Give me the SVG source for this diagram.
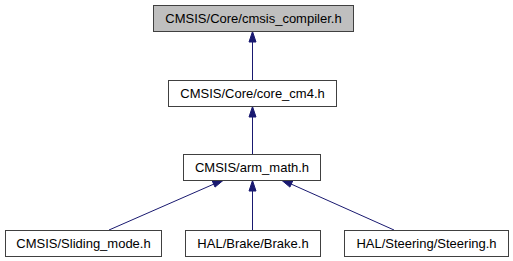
<svg xmlns="http://www.w3.org/2000/svg" width="513" height="261" viewBox="0 0 513 261">
  <defs>
    <style>
      .box { fill: #ffffff; stroke: #404040; stroke-width: 1; }
      .box.cur { fill: #bfbfbf; }
      .lbl { font-family: "Liberation Sans", Arial, sans-serif; font-size: 13px; fill: #000000; text-anchor: middle; }
      .edge { stroke: #191970; stroke-width: 1; fill: none; }
      .head { fill: #191970; stroke: #191970; stroke-width: 1; }
    </style>
  </defs>
  <rect width="513" height="261" fill="#ffffff"/>

  <g id="connectors">
    <!-- core_cm4.h -> cmsis_compiler.h -->
    <path class="edge" d="M252.5,80 L252.5,41"/>
    <polygon class="head" points="249,42 252.5,31.5 256,42"/>
    <!-- arm_math.h -> core_cm4.h -->
    <path class="edge" d="M252.5,154 L252.5,117"/>
    <polygon class="head" points="249,117 252.5,106.5 256,117"/>
    <!-- Sliding_mode.h -> arm_math.h -->
    <path class="edge" d="M109,230 L214,184"/>
    <polygon class="head" points="212.2,180.8 223,180.5 215,187.1"/>
    <!-- Brake.h -> arm_math.h -->
    <path class="edge" d="M252.5,230 L252.5,191"/>
    <polygon class="head" points="249,191 252.5,180.5 256,191"/>
    <!-- Steering.h -> arm_math.h -->
    <path class="edge" d="M394,230 L291,184"/>
    <polygon class="head" points="289.9,187.1 282,180.5 292.8,180.8"/>
  </g>

  <g id="node_cmsis_compiler">
    <rect class="box cur" x="153.5" y="5.5" width="200" height="26"/>
    <text class="lbl" x="253.5" y="23">CMSIS/Core/cmsis_compiler.h</text>
  </g>

  <g id="node_core_cm4">
    <rect class="box" x="168.5" y="80.5" width="168" height="26"/>
    <text class="lbl" x="252.5" y="98">CMSIS/Core/core_cm4.h</text>
  </g>

  <g id="node_arm_math">
    <rect class="box" x="183.5" y="154.5" width="137" height="26"/>
    <text class="lbl" x="252" y="172">CMSIS/arm_math.h</text>
  </g>

  <g id="node_sliding_mode">
    <rect class="box" x="5.5" y="230.5" width="156" height="26"/>
    <text class="lbl" x="83.5" y="248">CMSIS/Sliding_mode.h</text>
  </g>

  <g id="node_brake">
    <rect class="box" x="185.5" y="230.5" width="135" height="26"/>
    <text class="lbl" x="253" y="248">HAL/Brake/Brake.h</text>
  </g>

  <g id="node_steering">
    <rect class="box" x="344.5" y="230.5" width="164" height="26"/>
    <text class="lbl" x="426.5" y="248">HAL/Steering/Steering.h</text>
  </g>
</svg>
